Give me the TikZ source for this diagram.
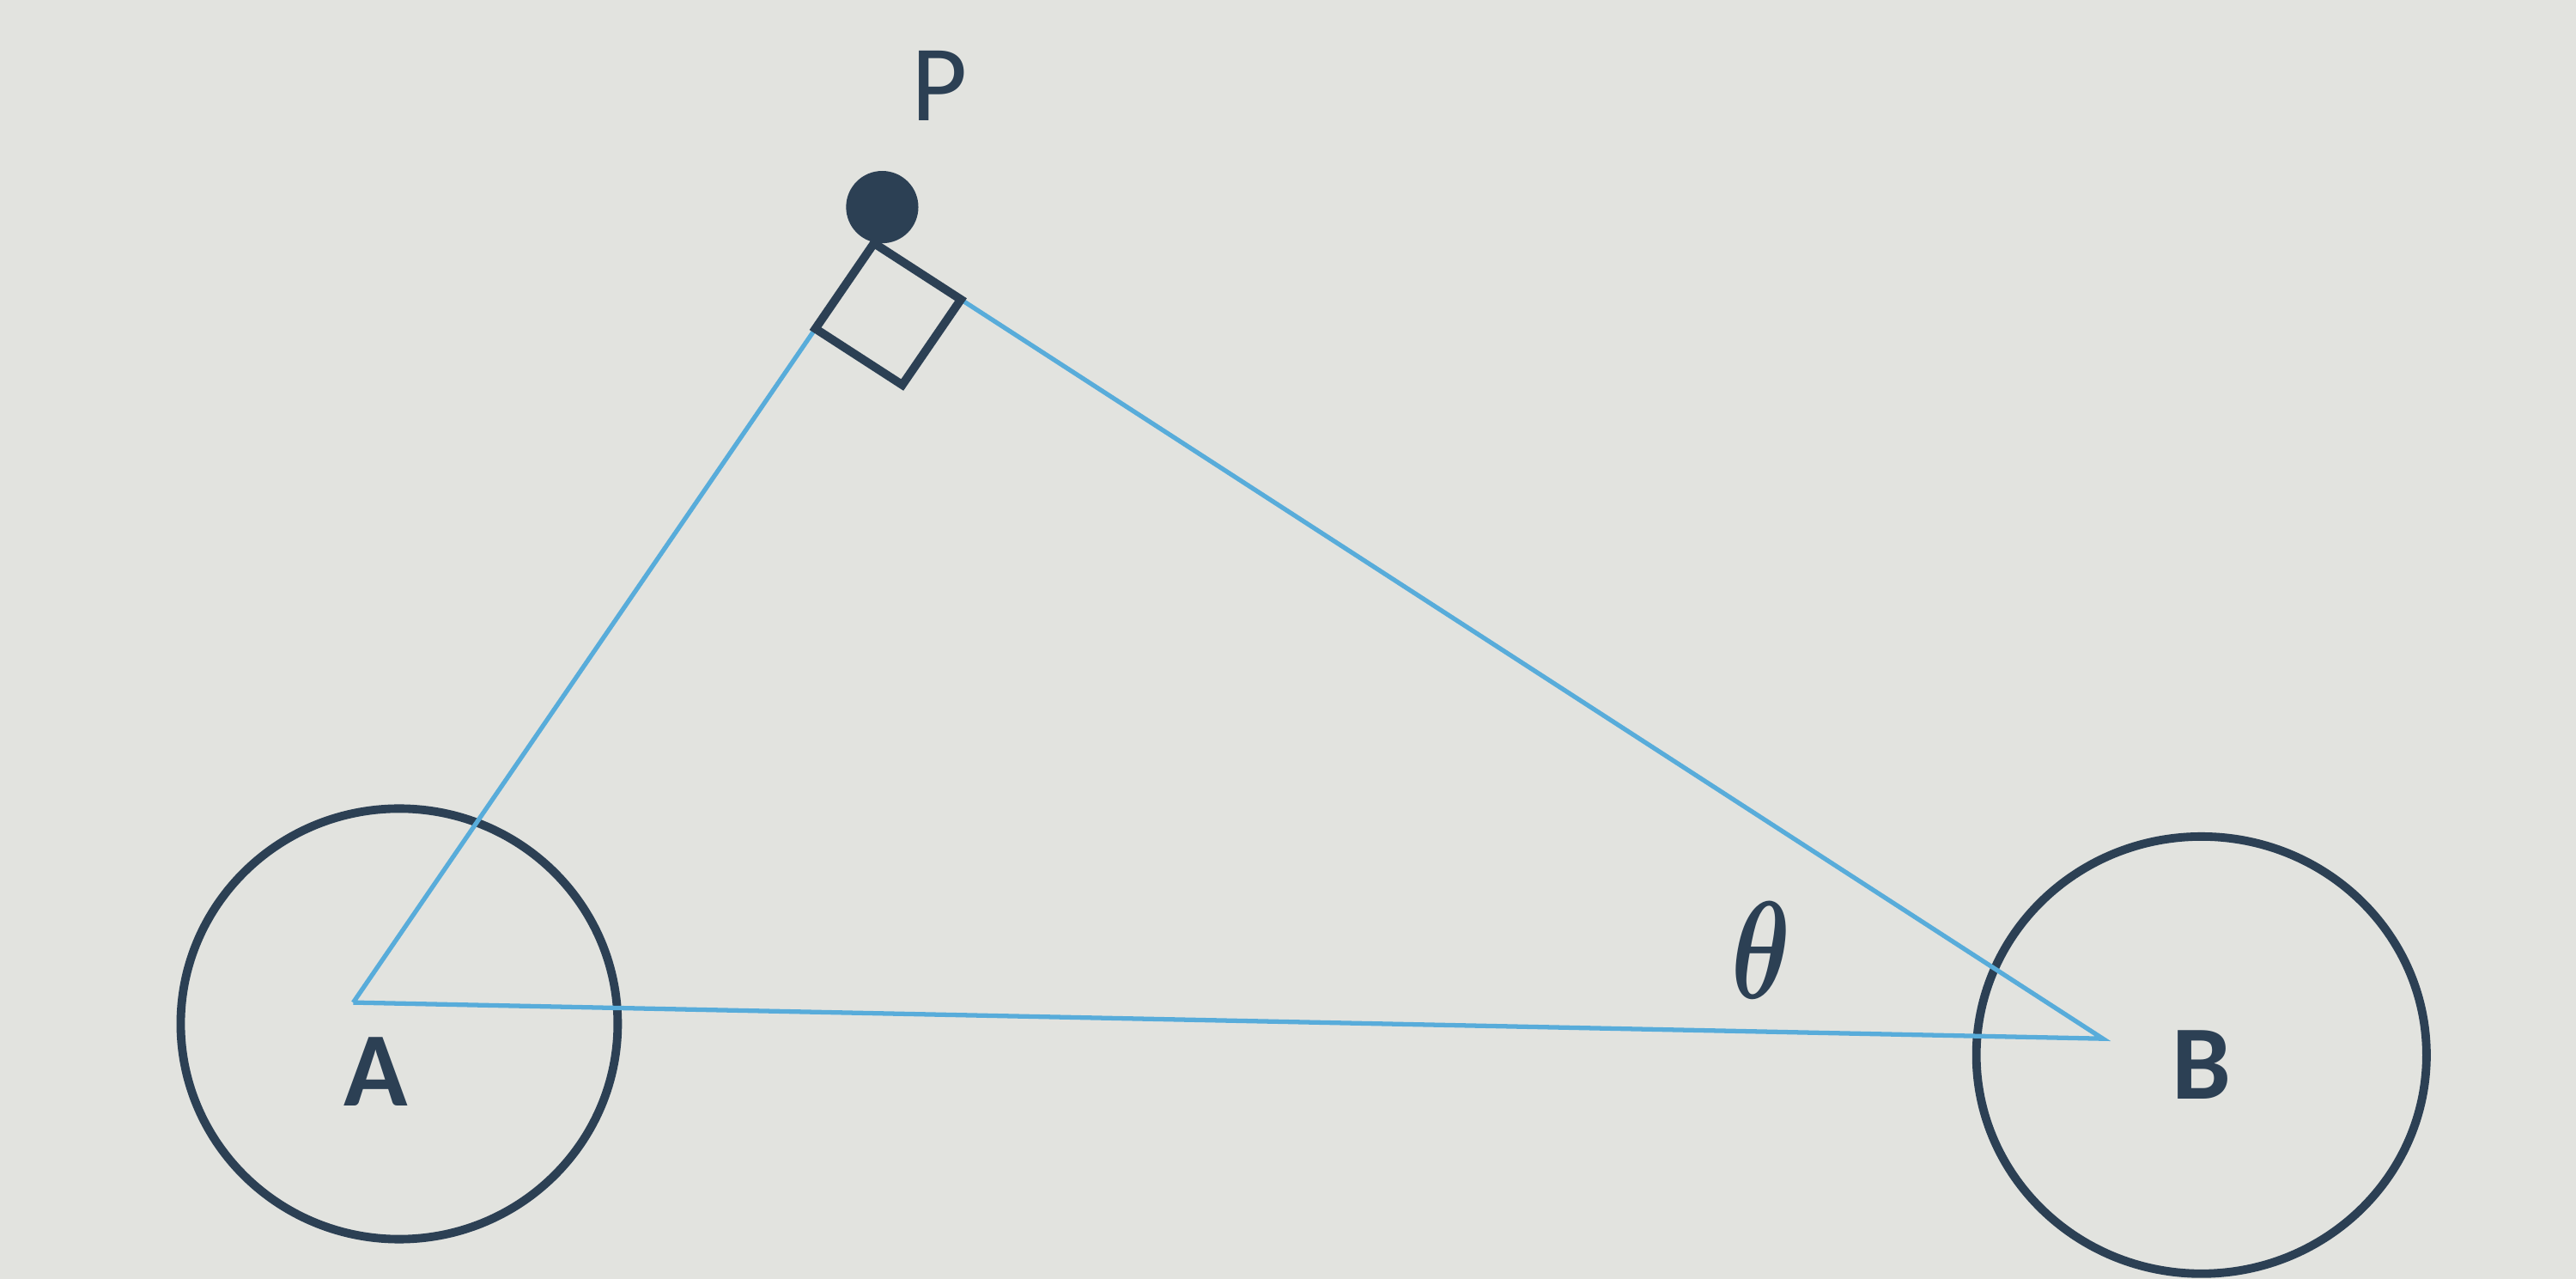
\RequirePackage{fix-cm}
\documentclass[tikz,border=0pt]{standalone}
\usepackage{fontspec}
\setmainfont{Carlito}
\usepackage{amsmath}
\usetikzlibrary{calc}
\definecolor{screen}{RGB}{226,227,223}
\definecolor{lineblue}{RGB}{88,172,218}
\definecolor{ink}{RGB}{44,64,84}

\begin{document}
\begin{tikzpicture}[x=0.01913cm, y=-0.01913cm,
    side/.style={draw=lineblue, line width=1.5pt},
    ring/.style={draw=ink, line width=2.8pt},
    lbl/.style={text=ink, inner sep=0pt}]
    \fill[screen] (0,0) rectangle (1568,778);
    \useasboundingbox (0,0) rectangle (1568,778);
    \coordinate (A) at (215,610);
    \coordinate (B) at (1280,632);
    \coordinate (P) at (532,148);
    \draw[ring] (243,623) circle [x radius=133, y radius=131];
    \draw[ring] (1340,642) circle [x radius=137, y radius=133];
    \draw[side] (A) -- (P) -- (B) -- (A);
    \coordinate (sA) at ($(P)!0.1125!(A)$);
    \coordinate (sB) at ($(P)!0.0707!(B)$);
    \draw[ink, line width=2.8pt, line join=miter] (P) -- (sA) -- ($(sA)+(sB)-(P)$) -- (sB) -- cycle;
    \fill[ink] (537,126) circle (22);
    \node[lbl, font=\fontsize{36}{40}\selectfont] (pname) at (572,52) {P};
    \node[lbl, font=\fontsize{35}{38}\selectfont\bfseries] (aname) at (229,652) {A};
    \node[lbl, font=\fontsize{35}{38}\selectfont\bfseries] (bname) at (1340,648) {B};
    \node[lbl, font=\fontsize{46}{50}\selectfont] (angle) at (1072,578) {\scalebox{0.72}[1]{$\boldsymbol{\theta}$}};
\end{tikzpicture}
\end{document}
